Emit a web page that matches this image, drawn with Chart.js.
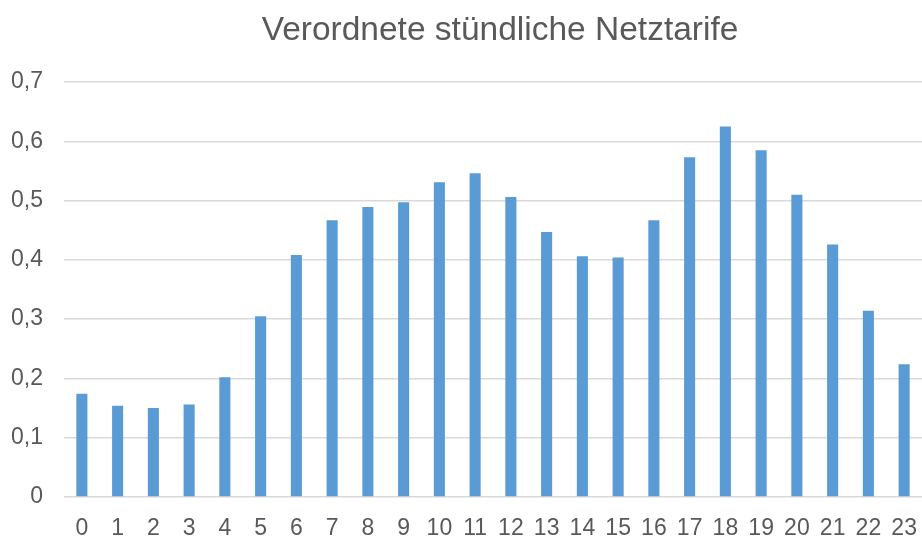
<!DOCTYPE html>
<html>
<head>
<meta charset="utf-8">
<script src="https://cdn.jsdelivr.net/npm/chart.js@4/dist/chart.umd.min.js"></script>
<style>
  html, body { margin: 0; padding: 0; background: #fff; }
  #wrap { width: 922px; height: 539px; }
</style>
</head>
<body>
<div id="wrap"><canvas id="myChart"></canvas></div>
<script>
// Hours of the day (x-axis categories)
const hours = ["0", "1", "2", "3", "4", "5", "6", "7", "8", "9", "10", "11",
  "12", "13", "14", "15", "16", "17", "18", "19", "20", "21", "22", "23"];

// Tariff per hour
const tariff = [0.174, 0.154, 0.150, 0.156, 0.202, 0.305, 0.408, 0.467,
  0.489, 0.497, 0.531, 0.546, 0.506, 0.447, 0.406, 0.404,
  0.467, 0.573, 0.625, 0.585, 0.510, 0.426, 0.314, 0.224];

const chartTitle = "Verordnete stündliche Netztarife";

const textColor = "#595959";
const font = "'Liberation Sans', Arial, sans-serif";

// Title drawn by hand so it can sit slightly right of the canvas centre, like the original
const titlePlugin = {
  id: "offsetTitle",
  afterDraw(chart) {
    const ctx = chart.ctx;
    ctx.save();
    ctx.fillStyle = textColor;
    ctx.font = "33.5px " + font;
    ctx.textAlign = "center";
    ctx.textBaseline = "alphabetic";
    ctx.fillText(chartTitle, 500, 40);
    ctx.restore();
  },
};

const data = {
  labels: hours,
  datasets: [
    {
      label: "Netztarif",
      backgroundColor: "#5b9bd5",
      borderWidth: 0,
      barPercentage: 0.62,
      categoryPercentage: 0.5,
      data: tariff,
    },
  ],
};

const config = {
  type: "bar",
  data: data,
  plugins: [titlePlugin],
  options: {
    responsive: true,
    maintainAspectRatio: false,
    animation: false,
    layout: { padding: { left: 0, right: -6, top: 82, bottom: 0 } },
    plugins: {
      legend: { display: false },
      tooltip: { enabled: false },
      title: { display: false },
    },
    scales: {
      x: {
        grid: { display: false },
        border: { display: false },
        afterFit: (s) => { s.height = 42; s.paddingRight = 0; },
        ticks: {
          color: textColor,
          font: { family: font, size: 23 },
          padding: 10,
          maxRotation: 0,
          autoSkip: false,
        },
      },
      y: {
        min: 0,
        max: 0.7,
        border: { display: false },
        grid: { color: "#d9d9d9", lineWidth: 1.5, drawTicks: false },
        afterFit: (s) => { s.width = 64; },
        ticks: {
          stepSize: 0.1,
          color: textColor,
          font: { family: font, size: 23 },
          padding: 21,
          callback: (v) => (v === 0 ? "0" : v.toFixed(1).replace(".", ",")),
        },
      },
    },
  },
};

const myChart = new Chart(document.getElementById("myChart"), config);
</script>
</body>
</html>
